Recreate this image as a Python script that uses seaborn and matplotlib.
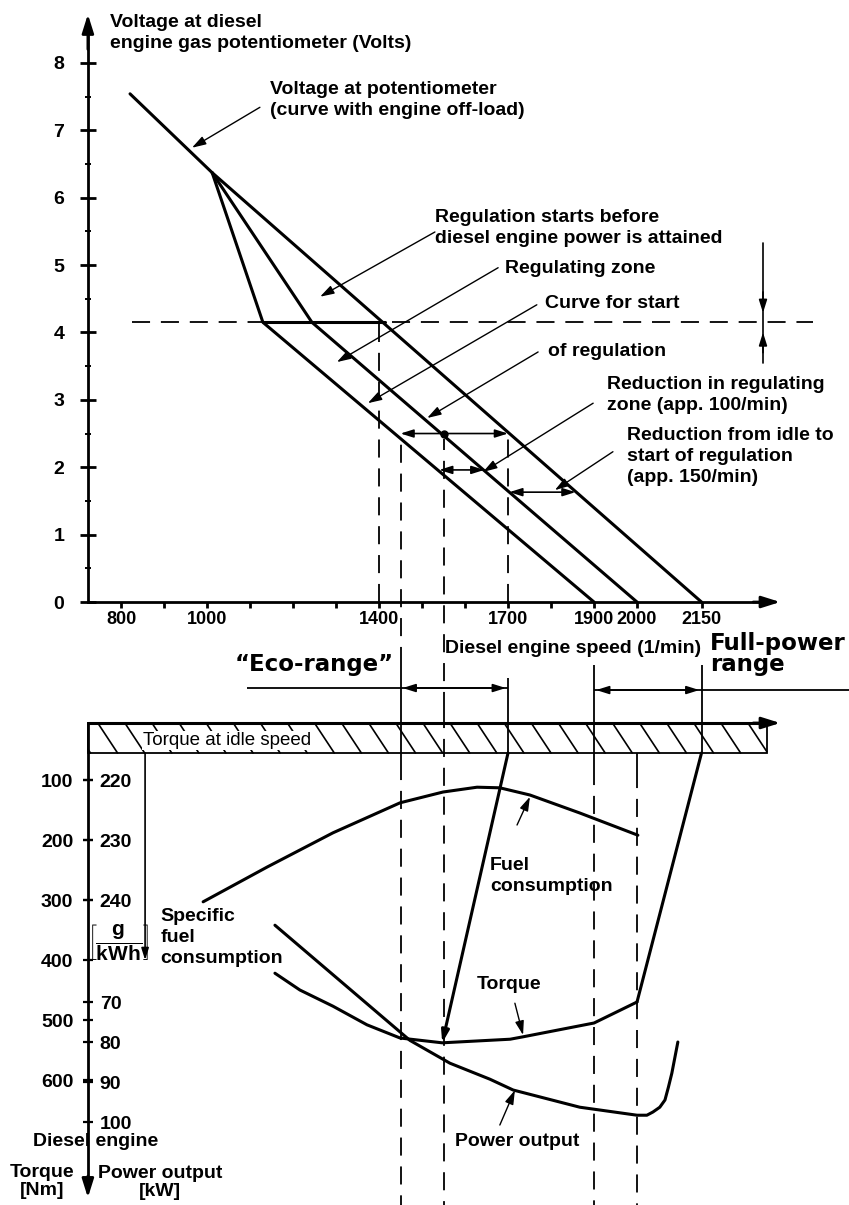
import numpy as np
import matplotlib
matplotlib.use("Agg")
import matplotlib.pyplot as plt
from matplotlib.patches import Rectangle
import seaborn as sns

# ============================================
# DATA
# ============================================
# upper diagram: potentiometer voltage (V) over diesel engine speed (1/min)
offload_rpm = [821, 1012, 2150]
offload_volt = [7.54, 6.37, 0.0]
start_a_rpm = [1012, 1130, 1900]
start_a_volt = [6.37, 4.15, 0.0]
start_b_rpm = [1012, 1244, 2000]
start_b_volt = [6.37, 4.15, 0.0]
reg_volt = 4.15
reg_rpm = [1130, 1415]

# horizontal "reduction" arrows between the regulation lines
red_volt = [2.5, 1.96, 1.63]
red_from = [1450, 1540, 1703]
red_to = [1700, 1645, 1857]
dot_rpm = 1550

speed_ticks = [800, 1000, 1400, 1700, 1900, 2000, 2150]
speed_minor = [900, 1100, 1200, 1300, 1500, 1600, 1800]
volt_ticks = [0, 1, 2, 3, 4, 5, 6, 7, 8]
volt_minor = [0.5, 1.5, 2.5, 3.5, 4.5, 5.5, 6.5, 7.5]

eco_range = [1450, 1700]
full_range = [1900, 2150]

# lower diagram
fuel_rpm = [991, 1140, 1293, 1449, 1549, 1628, 1681, 1751, 1867, 2002]
fuel_gkwh = [240.3, 234.5, 228.8, 223.8, 222.0, 221.2, 221.3, 222.5, 225.5, 229.2]

torque_rpm = [1158, 1216, 1293, 1372, 1449, 1547, 1705, 1735, 1900, 2000]
torque_nm = [422, 450, 477, 508, 530, 538, 532, 528, 505, 470]

power_rpm = [1158, 1472, 1565, 1658, 1712, 1867, 2000, 2023, 2037,
             2053, 2065, 2073, 2081, 2095]
power_kw = [50.8, 79.6, 85.3, 89.3, 92.0, 96.3, 98.3, 98.3, 97.5,
            96.3, 94.5, 91.3, 87.8, 80.0]

eco_line_rpm = [1700, 1547]
eco_line_nm = [55, 538]
full_line_rpm = [2150, 2000]
full_line_nm = [55, 470]
idle_nm = [5, 55]

torque_ticks = [100, 200, 300, 400, 500, 600]
sfc_ticks = [220, 230, 240]
power_ticks = [70, 80, 90, 100]


# scales of the right hand labels on the torque axis
def g_to_nm(g):
    return 100 + (np.asarray(g, dtype=float) - 220) * 10


def nm_to_g(n):
    return 220 + (np.asarray(n, dtype=float) - 100) / 10


def kw_to_nm(k):
    return 470 + (np.asarray(k, dtype=float) - 70) * 20 / 3


def nm_to_kw(n):
    return 70 + (np.asarray(n, dtype=float) - 470) * 3 / 20


# ============================================
# STYLE
# ============================================
sns.set_theme(style="white", rc={
    "axes.edgecolor": "black", "xtick.color": "black", "ytick.color": "black",
    "text.color": "black", "axes.labelcolor": "black", "axes.linewidth": 2.0,
})
plt.rcParams["font.family"] = ["Liberation Sans", "DejaVu Sans"]
plt.rcParams["font.weight"] = "bold"
plt.rcParams["mathtext.fontset"] = "custom"
plt.rcParams["mathtext.rm"] = "Liberation Sans:bold"
plt.rcParams["mathtext.it"] = "Liberation Sans:bold"
plt.rcParams["mathtext.bf"] = "Liberation Sans:bold"

K = "black"
DASH = (0, (10, 6))
X0 = 723              # speed at which both vertical axes stand
XL = (518.6, 2493.0)
FS = 14
LS = 1.3
HEAVY = dict(family="DejaVu Sans", weight="bold", fontsize=16.5)


def arrow(ax, tail, tip, style="-|>", lw=1.0, scale=12):
    ax.annotate("", xy=tip, xytext=tail,
                arrowprops=dict(arrowstyle=style + ",head_length=0.7,head_width=0.22",
                                color=K, lw=lw, mutation_scale=scale,
                                shrinkA=0, shrinkB=0))


fig = plt.figure(figsize=(8.49, 12.05), dpi=100)
split = 495 / 1205
top = fig.add_axes([0, split, 1, 1 - split])
low = fig.add_axes([0, 0, 1, split])
for ax in (top, low):
    ax.set_facecolor("none")
    ax.set_xlim(*XL)
    ax.spines[["top", "right"]].set_visible(False)
    ax.spines["left"].set_position(("data", X0))

# ============================================
# 1. UPPER DIAGRAM
# ============================================
top.set_ylim(-1.602, 8.932)
top.spines["bottom"].set_position(("data", 0))
top.spines["left"].set_bounds(0, 8.4)
top.spines["bottom"].set_bounds(X0, 2290)
arrow(top, (X0, 8.2), (X0, 8.72), lw=2, scale=16)
arrow(top, (2270, 0), (2333, 0), lw=2, scale=16)

top.set_xticks(speed_ticks)
top.set_xticks(speed_minor, minor=True)
top.set_xticklabels([str(v) for v in speed_ticks])
top.set_yticks(volt_ticks)
top.set_yticks(volt_minor, minor=True)
top.tick_params(axis="x", which="both", bottom=True, direction="out",
                length=4.5, width=2, labelsize=13, pad=2)
top.tick_params(axis="y", which="major", left=True, direction="inout",
                length=12, width=2, labelsize=FS, pad=11)
top.tick_params(axis="y", which="minor", left=True, direction="inout",
                length=4, width=1.4)

# guide lines
top.hlines(reg_volt, 826, 2409, colors=K, linestyles=DASH, lw=1.3)
top.vlines(1400, 0, reg_volt, colors=K, linestyles=DASH, lw=1.3)
top.vlines(eco_range[0], -0.93, red_volt[0], colors=K, linestyles=DASH, lw=1.3)
top.vlines(dot_rpm, -1.602, 2.42, colors=K, linestyles=DASH, lw=1.3)
top.vlines(eco_range[1], 0, red_volt[0], colors=K, linestyles=DASH, lw=1.3)
top.vlines(full_range, -1.16, -0.93, colors=K, linestyles=DASH, lw=1.3)
top.vlines(eco_range[0], -1.602, -0.93, colors=K, lw=1.3)
top.vlines(eco_range[1], -1.602, -1.13, colors=K, lw=1.3)
top.vlines(full_range, -1.602, -1.16, colors=K, lw=1.3)

# curves
for xs, ys in [(offload_rpm, offload_volt), (start_a_rpm, start_a_volt),
               (start_b_rpm, start_b_volt), (reg_rpm, [reg_volt] * 2)]:
    sns.lineplot(x=xs, y=ys, ax=top, color=K, lw=2.2, sort=False, estimator=None)

# reduction arrows
for v, a, b in zip(red_volt, red_from, red_to):
    arrow(top, (a, v), (b, v), style="<|-|>", lw=1.2, scale=11)
top.plot(dot_rpm, red_volt[0], "o", color=K, ms=5)

# dimension marker at the right
top.plot([2293, 2293], [5.33, 3.55], color=K, lw=1.2)
arrow(top, (2293, 4.6), (2293, 4.29), lw=1.2, scale=11)
arrow(top, (2293, 3.7), (2293, 4.0), lw=1.2, scale=11)

# leader arrows
arrow(top, (1123, 7.34), (965, 6.74))
arrow(top, (1530, 5.49), (1263, 4.53))
arrow(top, (1677, 4.96), (1302, 3.56))
arrow(top, (1767, 4.41), (1374, 2.95))
arrow(top, (1770, 3.71), (1512, 2.73))
arrow(top, (1898, 2.95), (1642, 1.93))
arrow(top, (1944, 2.23), (1809, 1.66))

top.text(774, 8.72, "Voltage at diesel\nengine gas potentiometer (Volts)",
         fontsize=FS, va="top", linespacing=LS)
top.text(1147, 7.73, "Voltage at potentiometer\n(curve with engine off-load)",
         fontsize=FS, va="top", linespacing=LS)
top.text(1530, 5.83, "Regulation starts before\ndiesel engine power is attained",
         fontsize=FS, va="top", linespacing=LS)
top.text(1693, 5.07, "Regulating zone", fontsize=FS, va="top")
top.text(1786, 4.55, "Curve for start", fontsize=FS, va="top")
top.text(1793, 3.85, "of regulation", fontsize=FS, va="top")
top.text(1930, 3.35, "Reduction in regulating\nzone (app. 100/min)",
         fontsize=FS, va="top", linespacing=LS)
top.text(1977, 2.59, "Reduction from idle to\nstart of regulation\n(app. 150/min)",
         fontsize=FS, va="top", linespacing=LS)
top.text(1553, -0.56, "Diesel engine speed (1/min)", fontsize=FS, va="top")

# range brackets
top.hlines(-1.276, 1093, eco_range[1], colors=K, lw=1.3)
arrow(top, (eco_range[0] + 5, -1.276), (eco_range[1] - 5, -1.276), style="<|-|>", lw=1.2, scale=11)
top.hlines(-1.306, full_range[0], XL[1], colors=K, lw=1.3)
arrow(top, (full_range[0] + 5, -1.306), (full_range[1] - 5, -1.306), style="<|-|>", lw=1.2, scale=11)
top.text(1065, -0.757, "\u201cEco-range\u201d", va="top", **HEAVY)
top.text(2170, -0.445, "Full-power\nrange", va="top", linespacing=0.9, **HEAVY)

# ============================================
# 2. LOWER DIAGRAM
# ============================================
low.set_ylim(808.3, -16.67)
low.spines["bottom"].set_visible(False)
low.spines["left"].set_bounds(5, 780)
arrow(low, (X0, 760), (X0, 796), lw=2, scale=16)
low.set_xticks([])
low.set_yticks(torque_ticks)
low.tick_params(axis="y", left=True, direction="inout", length=7, width=1.6,
                labelsize=FS, pad=7)

for ticks, funcs in [(sfc_ticks, (nm_to_g, g_to_nm)), (power_ticks, (nm_to_kw, kw_to_nm))]:
    sec = low.secondary_yaxis(88 / 849, functions=funcs)
    sec.set_alignment("right")
    sec.set_yticks(ticks)
    sec.tick_params(axis="y", right=True, direction="inout", length=7, width=1.6,
                    labelsize=FS, pad=5)
    sec.spines[["left", "right"]].set_visible(False)

# idle torque bar with a wide diagonal hatch
bar_end = 2302
bar = Rectangle((X0, idle_nm[0]), bar_end - X0, idle_nm[1] - idle_nm[0],
                facecolor="white", edgecolor=K, lw=1.3, zorder=1)
low.add_patch(bar)
shift, step = 46, 63
for x0 in np.arange(X0 - 40, bar_end, step):
    xa, ya = x0, idle_nm[0]
    xb, yb = x0 + shift, idle_nm[1]
    if xa < X0:
        ya = idle_nm[0] + (X0 - xa) / shift * (idle_nm[1] - idle_nm[0])
        xa = X0
    if xb > bar_end:
        yb = idle_nm[0] + (bar_end - x0) / shift * (idle_nm[1] - idle_nm[0])
        xb = bar_end
    low.plot([xa, xb], [ya, yb], color=K, lw=1.2, zorder=1.5)
low.plot([X0, 2300], [idle_nm[0]] * 2, color=K, lw=2.2, zorder=2)
arrow(low, (2270, idle_nm[0]), (2333, idle_nm[0]), lw=2, scale=16)
low.text(851, 20, "Torque at idle speed", fontsize=13.5, weight="normal", va="top",
         bbox=dict(facecolor="white", edgecolor="none", pad=0.5), zorder=3)

# guide lines
low.vlines(eco_range[0], -16.67, 70, colors=K, lw=1.3)
low.vlines(eco_range[0], 70, 808, colors=K, linestyles=DASH, lw=1.3)
low.vlines(dot_rpm, -16.67, 808, colors=K, linestyles=DASH, lw=1.3)
low.vlines(eco_range[1], -16.67, idle_nm[1], colors=K, lw=1.3)
low.vlines(full_range[0], -16.67, 78, colors=K, lw=1.3)
low.vlines(full_range[0], 78, 808, colors=K, linestyles=DASH, lw=1.3)
low.vlines(2000, idle_nm[1], 83, colors=K, lw=1.3)
low.vlines(2000, 83, 808, colors=K, linestyles=DASH, lw=1.3)
low.vlines(full_range[1], -16.67, idle_nm[1], colors=K, lw=1.3)

# fuel-consumption scale arrow
arrow(low, (856, idle_nm[1]), (856, 400), lw=1.2, scale=10)

# curves
sns.lineplot(x=fuel_rpm, y=g_to_nm(fuel_gkwh), ax=low, color=K, lw=2.2, sort=False, estimator=None)
sns.lineplot(x=torque_rpm, y=torque_nm, ax=low, color=K, lw=2.2, sort=False, estimator=None)
sns.lineplot(x=power_rpm, y=kw_to_nm(power_kw), ax=low, color=K, lw=2.2, sort=False, estimator=None)
sns.lineplot(x=full_line_rpm, y=full_line_nm, ax=low, color=K, lw=2.2, sort=False, estimator=None)
low.annotate("", xy=(eco_line_rpm[1], eco_line_nm[1]), xytext=(eco_line_rpm[0], eco_line_nm[0]),
             arrowprops=dict(arrowstyle="-|>,head_length=0.7,head_width=0.22", color=K,
                             lw=2.2, mutation_scale=10, shrinkA=0, shrinkB=0))

# leader arrows
arrow(low, (1721, 175), (1751, 128))
arrow(low, (1716, 472), (1735, 525))
arrow(low, (1681, 675), (1716, 617))

low.text(891, 314, "Specific\nfuel\nconsumption", fontsize=FS, va="top", linespacing=LS)
low.text(1658, 228, "Fuel\nconsumption", fontsize=FS, va="top", linespacing=LS)
low.text(1628, 427, "Torque", fontsize=FS, va="top")
low.text(1577, 689, "Power output", fontsize=FS, va="top")
low.text(595, 688, "Diesel engine", fontsize=FS, va="top")
low.text(616, 740, "Torque\n[Nm]", fontsize=FS, va="top", ha="center", linespacing=1.05)
low.text(891, 742, "Power output\n[kW]", fontsize=FS, va="top", ha="center", linespacing=1.05)
low.text(793, 372, r"$\left[\dfrac{\mathrm{g}}{\mathrm{kWh}}\right]$", fontsize=15,
         ha="center", va="center")

fig.savefig("out.png", dpi=100)
